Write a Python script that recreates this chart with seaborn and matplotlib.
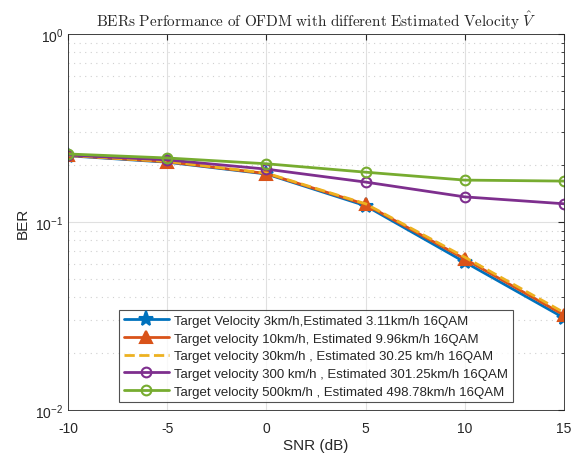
import numpy as np
import pandas as pd
import seaborn as sns
import matplotlib.pyplot as plt
from matplotlib.ticker import LogLocator, NullFormatter

sns.set_style("white")
plt.rcParams['font.family'] = ['Liberation Sans', 'DejaVu Sans']
plt.rcParams['mathtext.fontset'] = 'cm'
plt.rcParams['axes.unicode_minus'] = False

snr = [-10, -5, 0, 5, 10, 15]
ber_3 = [0.225, 0.208, 0.180, 0.122, 0.0612, 0.0309]
ber_10 = [0.226, 0.209, 0.181, 0.124, 0.0636, 0.0320]
ber_30 = [0.226, 0.210, 0.182, 0.125, 0.0650, 0.0330]
ber_300 = [0.227, 0.214, 0.191, 0.163, 0.136, 0.125]
ber_500 = [0.230, 0.219, 0.204, 0.184, 0.167, 0.165]

labels = [
    "Target Velocity 3km/h,Estimated 3.11km/h 16QAM",
    "Target velocity 10km/h, Estimated 9.96km/h 16QAM",
    "Target velocity 30km/h , Estimated 30.25 km/h 16QAM",
    "Target velocity 300 km/h , Estimated 301.25km/h 16QAM",
    "Target velocity 500km/h , Estimated 498.78km/h 16QAM",
]
series = [ber_3, ber_10, ber_30, ber_300, ber_500]
colors = ["#0072BD", "#D95319", "#EDB120", "#7E2F8E", "#77AC30"]
markers = ["*", "^", None, "o", "o"]
styles = ["-", "-", "--", "-", "-"]
msizes = [11, 8, 0, 7, 7]

fig = plt.figure(figsize=(5.74, 4.6), dpi=100)
ax = fig.add_axes([0.1185, 0.1065, 0.864, 0.8175])

for y, lab, c, m, ls, ms in zip(series, labels, colors, markers, styles, msizes):
    df = pd.DataFrame({"SNR": snr, "BER": y})
    sns.lineplot(data=df, x="SNR", y="BER", ax=ax, color=c, label=lab,
                 linestyle=ls, linewidth=2, marker=m, markersize=ms,
                 markerfacecolor="none" if m == "o" else c,
                 markeredgecolor=c, markeredgewidth=1.5)

ax.set_yscale("log")
ax.set_ylim(1e-2, 1)
ax.set_xlim(-10, 15)
ax.set_xticks(snr)
ax.yaxis.set_minor_locator(LogLocator(base=10, subs=np.arange(2, 10)))
ax.yaxis.set_minor_formatter(NullFormatter())
ax.grid(True, which="major", color="#e0e0e0", linewidth=0.8)
ax.grid(True, which="minor", axis="y", color="#d0d0d0", linestyle=(0, (1, 4)), linewidth=0.8)
ax.tick_params(direction="in", which="both", top=True, right=True, labelsize=10)
ax.tick_params(which="major", length=4)
ax.tick_params(which="minor", length=2)
ax.tick_params(axis="x", pad=8)
for s in ax.spines.values():
    s.set_color("#262626")
    s.set_linewidth(0.6)

ax.set_xlabel("SNR (dB)", fontsize=11, labelpad=2)
ax.set_ylabel("BER", fontsize=11)
ax.set_title(r"$\mathrm{BERs\ Performance\ of\ OFDM\ with\ different\ Estimated\ Velocity}\ \hat{V}$",
             fontsize=11)

leg = ax.legend(loc="lower center", bbox_to_anchor=(0.5, 0.02), fontsize=9.5,
                frameon=True, fancybox=False, edgecolor="#262626",
                handlelength=3.4, borderpad=0.35, labelspacing=0.42, handletextpad=0.4,
                borderaxespad=0)
leg.get_frame().set_linewidth(0.8)

plt.savefig("out.png", dpi=100)
